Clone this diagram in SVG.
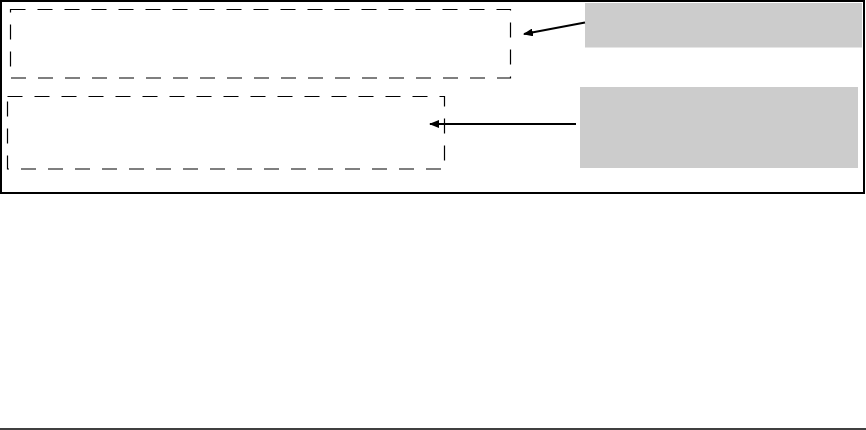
<svg xmlns="http://www.w3.org/2000/svg" width="866" height="430" viewBox="0 0 866 430">
<style>
.dash{fill:none;stroke:#000;stroke-width:1.2;stroke-dasharray:15 12}
.note{fill:#ccc;stroke:none}
.conn{stroke:#000;stroke-width:2;fill:none;marker-end:url(#ah)}
</style>
<defs>
<marker id="ah" viewBox="0 0 10 8" refX="9" refY="4" markerWidth="10" markerHeight="8" markerUnits="userSpaceOnUse" orient="auto">
<path d="M0,0L10,4L0,8z" fill="#000"/>
</marker>
</defs>
<rect width="866" height="430" fill="#fff"/>
<rect id="frame" x="1" y="1" width="863" height="192" fill="none" stroke="#000" stroke-width="2"/>
<g id="box1"><rect class="dash" x="10.5" y="9.5" width="500" height="68.5"/></g>
<g id="box2"><rect class="dash" x="7.5" y="96.5" width="437" height="72.5"/></g>
<g id="note1"><rect class="note" x="585" y="3" width="277" height="44.5"/></g>
<g id="note2"><rect class="note" x="580" y="87" width="278" height="81"/></g>
<g id="connectors">
<line class="conn" x1="585" y1="22.5" x2="524" y2="34"/>
<line class="conn" x1="576" y1="124" x2="430" y2="124"/>
</g>
<line x1="0" y1="429" x2="866" y2="429" stroke="#000" stroke-width="1.5"/>
</svg>
